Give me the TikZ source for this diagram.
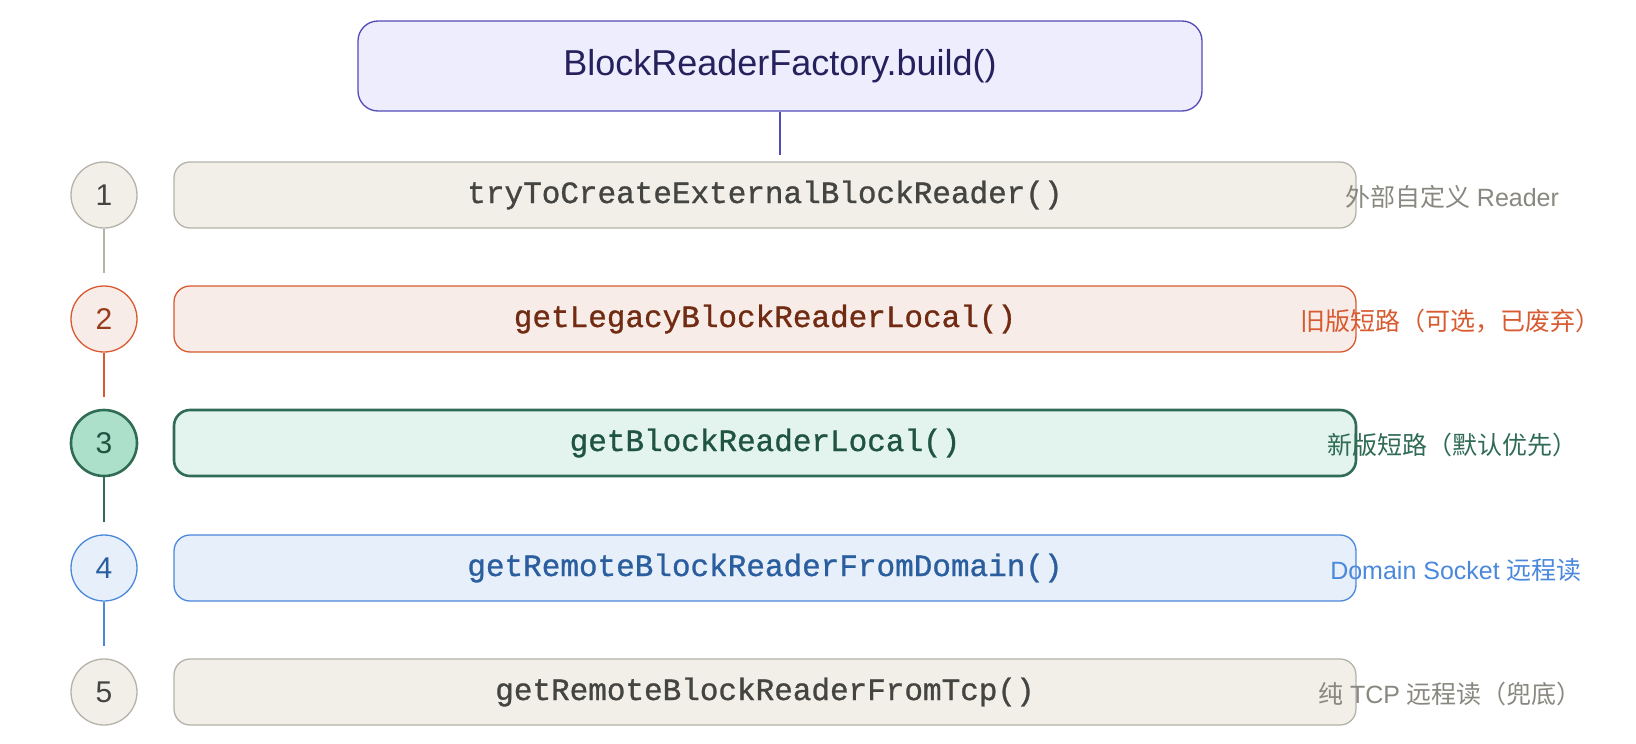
\documentclass[tikz,border=0pt]{standalone}
\usepackage{fontspec}
\setmainfont{Liberation Sans}
\newfontfamily\cjk{Noto Sans CJK SC}
\newfontfamily\codefont[FakeBold=1]{Liberation Mono}
\usepackage{tikz}
\usetikzlibrary{positioning, calc}
\definecolor{cPurple}{HTML}{534AB7}
\definecolor{cPurpleFill}{HTML}{EEEDFE}
\definecolor{cPurpleText}{HTML}{26215C}
\definecolor{cGray}{HTML}{B4B2A9}
\definecolor{cGrayFill}{HTML}{F1EFE8}
\definecolor{cGrayText}{HTML}{444441}
\definecolor{cGrayNote}{HTML}{888780}
\definecolor{cCoral}{HTML}{D85A30}
\definecolor{cCoralFill}{HTML}{F7ECE7}
\definecolor{cCoralText}{HTML}{712B13}
\definecolor{cCoralNum}{HTML}{993C1D}
\definecolor{cTeal}{HTML}{2F6B55}
\definecolor{cTealFill}{HTML}{E3F3ED}
\definecolor{cTealCircle}{HTML}{ACE0CB}
\definecolor{cTealText}{HTML}{1F5443}
\definecolor{cBlue}{HTML}{4A88DC}
\definecolor{cBlueFill}{HTML}{E6EFFA}
\definecolor{cBlueText}{HTML}{2A5E9E}

\begin{document}
\begin{tikzpicture}[x=1pt, y=-1pt,
        rowbox/.style={draw, rounded corners=16pt, line width=1.3pt,
            minimum width=1182pt, minimum height=66pt, inner sep=0pt,
            font=\codefont\fontsize{31}{34}\selectfont},
        stepnum/.style={circle, draw, line width=1.3pt, minimum size=66pt,
            inner sep=0pt, font=\fontsize{30}{32}\selectfont},
        note/.style={font=\fontsize{25}{28}\selectfont},
        link/.style={line width=1.3pt, shorten >=12pt}]
        \useasboundingbox (0,0) rectangle (1636,744);
        \node[draw=cPurple, fill=cPurpleFill, text=cPurpleText, rounded corners=20pt,
            line width=1.3pt, minimum width=844pt, minimum height=90pt,
            font=\fontsize{36}{40}\selectfont] (build) at (780,66) {BlockReaderFactory.build()};

        \node[stepnum, draw=cGray, fill=cGrayFill, text=cGrayText] (n1) at (104,195) {1};
        \node[rowbox, draw=cGray, fill=cGrayFill, text=cGrayText] (r1) at (765,195) {tryToCreateExternalBlockReader()};
        \node[note, text=cGrayNote] (t1) at (1452,197) {{\cjk 外部自定义} Reader};

        \node[stepnum, draw=cCoral, fill=cCoralFill, text=cCoralNum] (n2) at (104,319) {2};
        \node[rowbox, draw=cCoral, fill=cCoralFill, text=cCoralText] (r2) at (765,319) {getLegacyBlockReaderLocal()};
        \node[note, text=cCoral] (t2) at (1450,321) {\cjk 旧版短路（可选，已废弃）};

        \node[stepnum, draw=cTeal, fill=cTealCircle, text=cTealText, line width=2.6pt] (n3) at (104,443) {3};
        \node[rowbox, draw=cTeal, fill=cTealFill, text=cTealText, line width=2.6pt] (r3) at (765,443) {getBlockReaderLocal()};
        \node[note, text=cTeal] (t3) at (1452,445) {\cjk 新版短路（默认优先）};

        \node[stepnum, draw=cBlue, fill=cBlueFill, text=cBlueText] (n4) at (104,568) {4};
        \node[rowbox, draw=cBlue, fill=cBlueFill, text=cBlueText] (r4) at (765,568) {getRemoteBlockReaderFromDomain()};
        \node[note, text=cBlue] (t4) at (1456,570) {Domain Socket {\cjk 远程读}};

        \node[stepnum, draw=cGray, fill=cGrayFill, text=cGrayText] (n5) at (104,692) {5};
        \node[rowbox, draw=cGray, fill=cGrayFill, text=cGrayText] (r5) at (765,692) {getRemoteBlockReaderFromTcp()};
        \node[note, text=cGrayNote] (t5) at (1450,694) {{\cjk 纯} TCP {\cjk 远程读（兜底）}};

        \draw[cPurple, line width=1.3pt, shorten >=6pt] (build.south) -- (build.south |- r1.north);
        \draw[link, cGray] (n1) -- (n2);
        \draw[link, cCoral] (n2) -- (n3);
        \draw[link, cTeal] (n3) -- (n4);
        \draw[link, cBlue] (n4) -- (n5);
    \end{tikzpicture}
\end{document}
